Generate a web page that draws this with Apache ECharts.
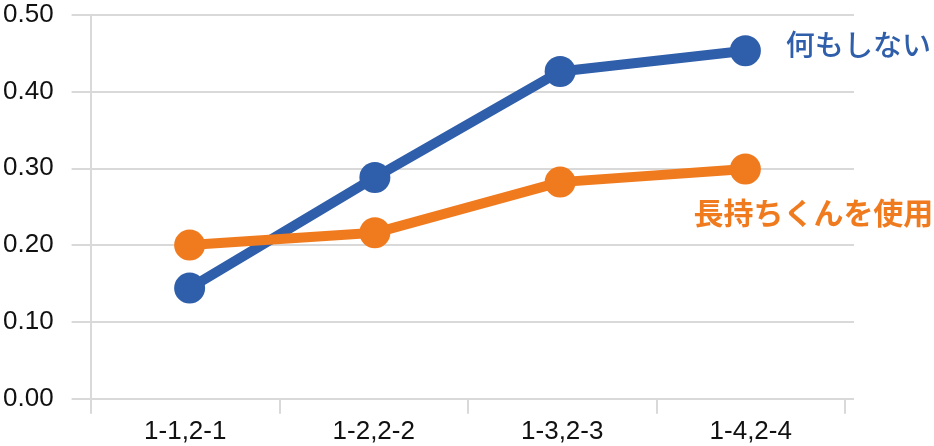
<!DOCTYPE html>
<html>
<head>
<meta charset="utf-8">
<script src="https://cdn.jsdelivr.net/npm/echarts@6/dist/echarts.min.js"></script>
<style>html,body{margin:0;padding:0;background:#fff;}#c{width:934px;height:446px;}</style>
</head>
<body>
<div id="c"></div>
<script>
var categories = ['1-1,2-1', '1-2,2-2', '1-3,2-3', '1-4,2-4'];
var nothingName = '何もしない';
var nothingValues = [0.144, 0.288, 0.426, 0.453];
var nagamochiName = '長持ちくんを使用';
var nagamochiValues = [0.200, 0.216, 0.282, 0.299];
var yTicks = { min: 0, max: 0.5, interval: 0.1 };

var BLUE = '#2f5eaa', ORANGE = '#f07b1f', GRID = '#d9d9d9';
var labelFont = 'Liberation Sans';

function withEndLabel(values, text, color, size, weight, offset) {
  return values.map(function (v, i) {
    if (i !== values.length - 1) return v;
    return {
      value: v,
      label: {
        show: true, position: 'inside', offset: offset,
        formatter: text, color: color, fontSize: size, fontWeight: weight,
        fontFamily: 'Noto Sans CJK JP', align: 'center', verticalAlign: 'middle'
      }
    };
  });
}

var chart = echarts.init(document.getElementById('c'), null, { renderer: 'canvas' });
chart.setOption({
  animation: false,
  backgroundColor: '#fff',
  grid: [
    { left: 71, right: 80, top: 14.7, bottom: 47.3 },
    { left: 91, right: 89, top: 14.7, bottom: 47.3 },
    { left: 97, right: 96, top: 14.7, bottom: 47.3 }
  ],
  xAxis: [
    { gridIndex: 0, type: 'category', data: categories, show: false },
    { gridIndex: 1, type: 'category', data: categories, boundaryGap: true,
      axisLine: { show: false },
      axisTick: { show: true, length: 15, lineStyle: { color: GRID, width: 2 } },
      axisLabel: { color: '#111', fontSize: 26, fontFamily: labelFont, margin: 20 } },
    { gridIndex: 2, type: 'category', data: categories, show: false, boundaryGap: true }
  ],
  yAxis: [
    { gridIndex: 0, type: 'value', min: yTicks.min, max: yTicks.max, interval: yTicks.interval,
      axisLine: { show: false }, axisTick: { show: false },
      splitLine: { show: true, lineStyle: { color: GRID, width: 2 } },
      axisLabel: { color: '#111', fontSize: 26, fontFamily: labelFont, margin: 18,
        formatter: function (v) { return v.toFixed(2); } } },
    { gridIndex: 1, type: 'value', min: yTicks.min, max: yTicks.max, interval: yTicks.interval,
      axisLine: { show: true, lineStyle: { color: GRID, width: 2 } },
      axisTick: { show: false }, axisLabel: { show: false }, splitLine: { show: false } },
    { gridIndex: 2, type: 'value', min: yTicks.min, max: yTicks.max, interval: yTicks.interval, show: false,
      splitLine: { show: false } }
  ],
  series: [
    { name: nothingName, type: 'line', xAxisIndex: 2, yAxisIndex: 2,
      data: withEndLabel(nothingValues, nothingName, BLUE, 29, 500, [113, -6]),
      symbol: 'circle', symbolSize: 31, color: BLUE,
      lineStyle: { width: 10, color: BLUE }, itemStyle: { color: BLUE } },
    { name: nagamochiName, type: 'line', xAxisIndex: 2, yAxisIndex: 2,
      data: withEndLabel(nagamochiValues, nagamochiName, ORANGE, 30, 'bold', [68, 44]),
      symbol: 'circle', symbolSize: 31, color: ORANGE,
      lineStyle: { width: 10, color: ORANGE }, itemStyle: { color: ORANGE } }
  ]
});
</script>
</body>
</html>
